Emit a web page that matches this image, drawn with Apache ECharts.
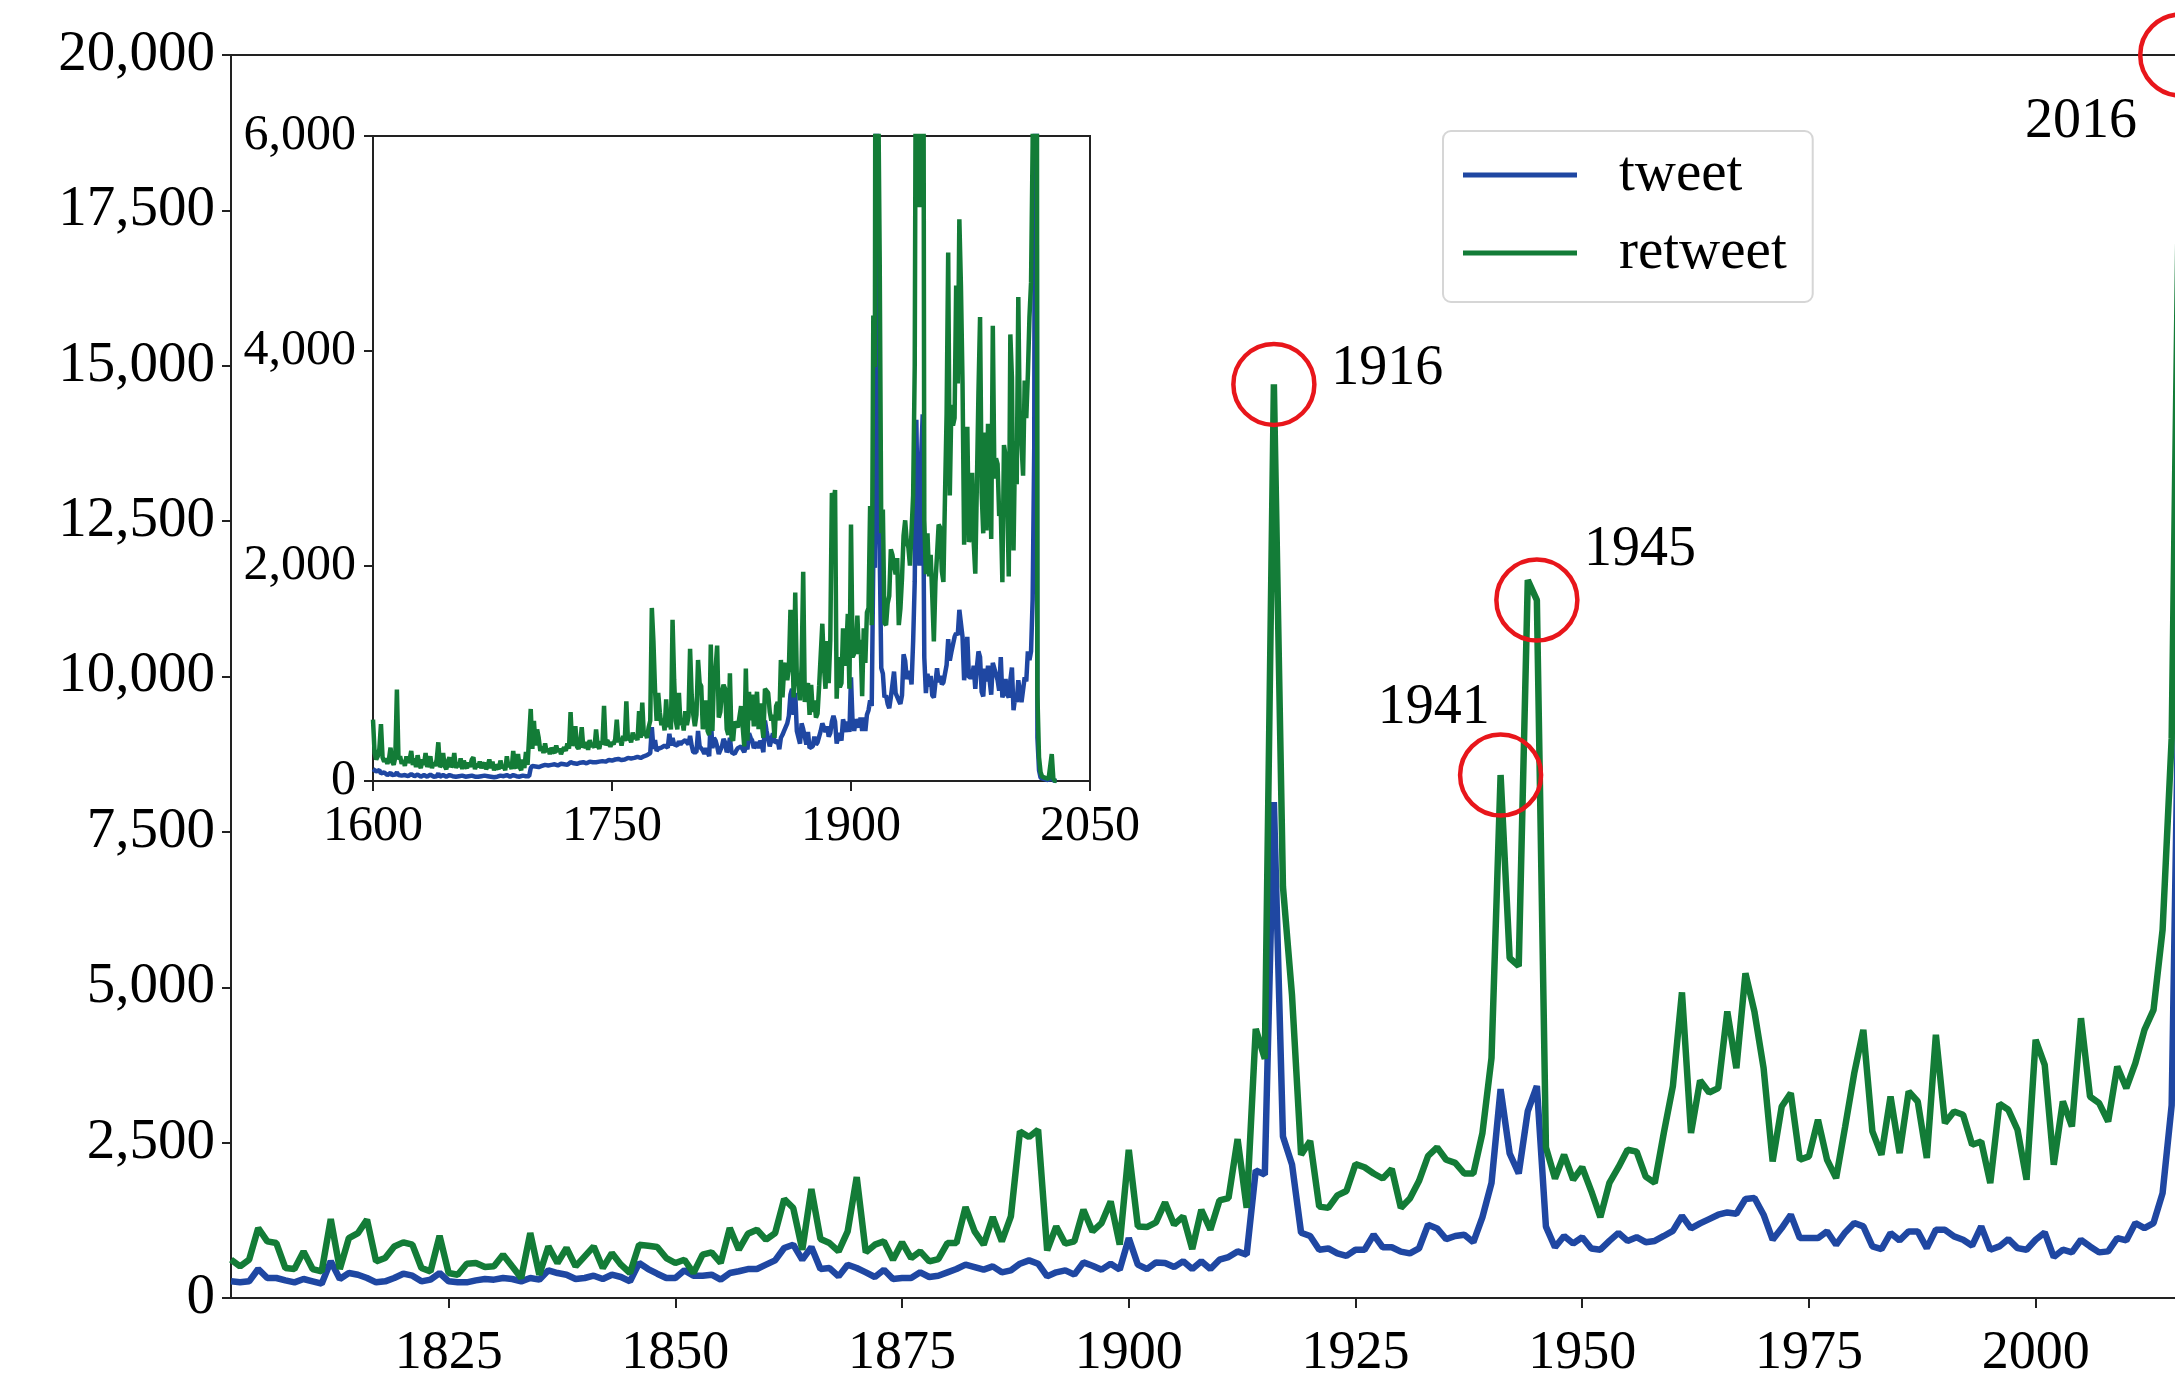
<!DOCTYPE html>
<html>
<head>
<meta charset="utf-8">
<script src="https://cdn.jsdelivr.net/npm/echarts@6/dist/echarts.min.js"></script>
<style>
  html, body { margin: 0; padding: 0; background: #fff; }
  #chart { width: 2175px; height: 1382px; }
</style>
</head>
<body>
<div id="chart"></div>
<script>
// years covered by each block of values
const mainStart = 1801
const earlyStart = 1600
const lateStart = 2017

// yearly counts, 1801-2016 (main panel)
const tweetMain = [
  268, 252, 268, 466, 322, 322, 284, 252, 306, 268,
  230, 590, 306, 402, 375, 322, 252, 268, 322, 391,
  359, 268, 295, 402, 268, 252, 252, 284, 306, 295,
  322, 306, 268, 322, 295, 445, 402, 375, 306, 322,
  359, 306, 375, 338, 268, 563, 466, 391, 322, 322,
  445, 359, 359, 375, 295, 402, 430, 466, 466, 536,
  606, 804, 858, 616, 820, 466, 482, 348, 536, 482,
  413, 338, 456, 306, 322, 322, 413, 338, 359, 413,
  466, 536, 498, 456, 509, 413, 445, 552, 606, 552,
  348, 413, 445, 375, 573, 520, 456, 552, 456, 965,
  536, 466, 573, 563, 498, 590, 466, 590, 466, 616,
  659, 750, 697, 2054, 1984, 7980, 2600, 2150, 1050, 998,
  777, 797, 717, 677, 777, 777, 1018, 817, 817, 747,
  717, 797, 1179, 1119, 948, 998, 1018, 898, 1300, 1852,
  3360, 2325, 2003, 3008, 3410, 1149, 817, 998, 877, 978,
  797, 777, 918, 1049, 918, 978, 898, 918, 998, 1079,
  1320, 1119, 1200, 1270, 1340, 1377, 1356, 1592, 1608, 1340,
  937, 1125, 1340, 964, 964, 964, 1072, 857, 1055, 1206,
  1152, 830, 787, 1045, 927, 1072, 1072, 803, 1098, 1098,
  991, 937, 841, 1152, 777, 830, 948, 803, 777, 937,
  1055, 658, 777, 734, 937, 830, 734, 750, 964, 927,
  1206, 1125, 1206, 1688, 3100, 12000
]
const retweetMain = [
  616, 509, 616, 1126, 911, 884, 482, 466, 750, 466,
  429, 1270, 466, 965, 1045, 1260, 590, 643, 830, 895,
  858, 482, 429, 1002, 402, 375, 552, 563, 498, 509,
  697, 509, 322, 1045, 375, 830, 563, 804, 509, 670,
  830, 482, 723, 536, 402, 858, 841, 820, 643, 563,
  616, 402, 697, 734, 563, 1126, 777, 1034, 1099, 938,
  1045, 1592, 1447, 777, 1753, 949, 884, 750, 1072, 1946,
  734, 858, 911, 616, 895, 643, 750, 590, 627, 884,
  884, 1463, 1072, 858, 1302, 911, 1313, 2680, 2589, 2707,
  766, 1152, 874, 911, 1420, 1072, 1206, 1554, 858, 2385,
  1152, 1142, 1217, 1538, 1179, 1313, 788, 1420, 1099, 1570,
  1608, 2557, 1450, 4330, 3850, 14700, 6620, 4870, 2305, 2526,
  1470, 1450, 1651, 1721, 2154, 2104, 2003, 1923, 2074, 1450,
  1601, 1882, 2285, 2425, 2224, 2174, 2003, 2003, 2656, 3863,
  8415, 5470, 5340, 11550, 11230, 2425, 1923, 2305, 1903, 2104,
  1721, 1299, 1852, 2104, 2385, 2355, 1953, 1852, 2656, 3410,
  4917, 2656, 3500, 3306, 3376, 4610, 3698, 5225, 4600, 3700,
  2197, 3081, 3296, 2224, 2278, 2867, 2224, 1929, 2760, 3618,
  4315, 2680, 2304, 3242, 2331, 3323, 3162, 2251, 4234, 2814,
  3001, 2948, 2465, 2519, 1849, 3125, 3028, 2707, 1902, 4154,
  3752, 2144, 3162, 2760, 4502, 3242, 3135, 2841, 3725, 3376,
  3778, 4315, 4636, 5922, 9000, 20000
]

// 1600-1800, only seen in the inset
const tweetEarly = [
  110, 120, 90, 80, 100, 70, 60, 80, 65, 55,
  60, 75, 55, 50, 60, 80, 55, 60, 50, 45,
  55, 60, 45, 50, 65, 50, 45, 55, 60, 45,
  40, 50, 55, 45, 40, 50, 60, 45, 40, 50,
  45, 70, 40, 50, 55, 45, 40, 50, 55, 40,
  45, 55, 40, 50, 45, 40, 50, 45, 40, 35,
  45, 40, 50, 55, 40, 45, 40, 50, 45, 40,
  50, 40, 45, 55, 40, 50, 35, 45, 40, 45,
  50, 40, 45, 40, 55, 45, 40, 50, 55, 40,
  45, 50, 40, 45, 50, 40, 45, 50, 45, 120,
  140, 130, 135, 140, 130, 145, 140, 135, 150, 140,
  145, 140, 150, 145, 155, 150, 145, 155, 160, 150,
  155, 160, 150, 165, 175, 160, 165, 170, 160, 165,
  170, 165, 175, 170, 165, 175, 180, 170, 175, 180,
  175, 185, 180, 190, 185, 195, 180, 190, 195, 185,
  190, 195, 200, 190, 205, 200, 195, 210, 200, 205,
  215, 205, 210, 220, 215, 210, 225, 230, 215, 220,
  230, 225, 240, 235, 260, 500, 300, 380, 280, 300,
  290, 310, 300, 330, 320, 310, 440, 330, 400, 340,
  350, 330, 370, 340, 360, 350, 380, 360, 340, 420,
  330
]
const retweetEarly = [
  570, 260, 200, 230, 300, 530, 220, 180, 210, 160,
  200, 310, 180, 150, 220, 850, 200, 230, 160, 190,
  140, 230, 170, 200, 280, 150, 210, 130, 240, 160,
  120, 200, 150, 260, 130, 180, 230, 120, 170, 140,
  200, 360, 130, 150, 260, 140, 110, 180, 220, 130,
  150, 260, 120, 170, 130, 210, 110, 190, 140, 120,
  170, 130, 200, 220, 110, 160, 130, 180, 120, 150,
  170, 110, 140, 200, 120, 180, 100, 150, 130, 110,
  190, 120, 140, 100, 230, 130, 160, 110, 280, 140,
  120, 250, 130, 100, 200, 120, 270, 150, 140, 670,
  300, 560, 330, 480, 400, 280, 320, 260, 350, 270,
  300, 250, 310, 280, 260, 330, 270, 300, 250, 290,
  310, 280, 350, 300, 640, 330, 360, 510, 320, 300,
  340, 500, 310, 330, 360, 290, 380, 320, 340, 310,
  480, 330, 300, 370, 340, 700, 330, 380, 350, 320,
  360, 340, 390, 570, 360, 400, 330, 420, 370, 740,
  380, 400, 360, 450, 390, 420, 380, 650, 400, 730,
  420, 450, 400, 500, 560, 1610, 1300, 850, 560, 820,
  640, 520, 580, 470, 760, 500, 600, 480, 1500, 940,
  560, 480, 820, 520, 580, 470, 650, 520, 600, 1230,
  800
]

// 2017-2029, only seen in the inset
const tweetLate = [400, 100, 30, 20, 20, 15, 10, 10, 15, 40, 5, 0, 0]
const retweetLate = [800, 220, 80, 40, 30, 30, 20, 20, 30, 250, 20, 0, 0]

// axis ticks
const mainYearTicks = [1825, 1850, 1875, 1900, 1925, 1950, 1975, 2000]
const peakYears = [1916, 1941, 1945, 2016]

const serif = "'Liberation Serif', 'Times New Roman', serif"
const blue = '#1f47a2'
const green = '#137c37'
const axisColor = '#222'

function toPairs(start, values) {
  return values.map((v, i) => [start + i, v])
}
function fmt(v) {
  return v.toLocaleString('en-US')
}
function yearFmt(v) {
  return String(v)
}

const tweetAll = toPairs(earlyStart, tweetEarly.concat(tweetMain, tweetLate))
const retweetAll = toPairs(earlyStart, retweetEarly.concat(retweetMain, retweetLate))

// label placement next to each red circle (relative to the symbol box)
const peakLabel = {
  1916: { position: [100, 28], align: 'left' },
  1941: { position: [32, -24], align: 'right' },
  1945: { position: [90, -7], align: 'left' },
  2016: { position: [-1, 110], align: 'right' }
}

var myChart = echarts.init(document.getElementById('chart'))
let option = {
  animation: false,
  backgroundColor: '#fff',
  grid: [
    {
      left: 231, top: 55, right: -42, bottom: 84,
      show: true, borderColor: axisColor, borderWidth: 2,
      outerBoundsMode: 'none'
    },
    {
      left: 373, top: 136, width: 717, height: 645,
      show: true, borderColor: axisColor, borderWidth: 2,
      outerBoundsMode: 'none'
    }
  ],
  xAxis: [
    {
      type: 'value', gridIndex: 0, min: 1801, max: 2020,
      axisLine: { show: true, lineStyle: { color: axisColor, width: 2 } },
      axisTick: { show: true, length: 10, lineStyle: { color: axisColor, width: 2 }, customValues: mainYearTicks },
      axisLabel: { margin: 29, fontFamily: serif, fontSize: 54, color: '#000', customValues: mainYearTicks, formatter: yearFmt },
      splitLine: { show: false }
    },
    {
      type: 'value', gridIndex: 1, min: 1600, max: 2050, interval: 150,
      axisLine: { show: true, lineStyle: { color: axisColor, width: 2 } },
      axisTick: { show: true, length: 10, lineStyle: { color: axisColor, width: 2 } },
      axisLabel: { margin: 21, fontFamily: serif, fontSize: 50, color: '#000', formatter: yearFmt },
      splitLine: { show: false }
    }
  ],
  yAxis: [
    {
      type: 'value', gridIndex: 0, min: 0, max: 20000, interval: 2500,
      axisLine: { show: true, lineStyle: { color: axisColor, width: 2 } },
      axisTick: { show: true, length: 9, lineStyle: { color: axisColor, width: 2 } },
      axisLabel: { margin: 16, fontFamily: serif, fontSize: 57, color: '#000', formatter: fmt },
      splitLine: { show: false }
    },
    {
      type: 'value', gridIndex: 1, min: 0, max: 6000, interval: 2000,
      axisLine: { show: true, lineStyle: { color: axisColor, width: 2 } },
      axisTick: { show: true, length: 9, lineStyle: { color: axisColor, width: 2 } },
      axisLabel: { margin: 17, fontFamily: serif, fontSize: 50, color: '#000', formatter: fmt },
      splitLine: { show: false }
    }
  ],
  legend: {
    data: ['tweet', 'retweet'],
    orient: 'vertical',
    left: 1443, top: 131,
    padding: [12, 26, 17, 20],
    itemWidth: 114, itemHeight: 5, itemGap: 14,
    icon: 'rect',
    backgroundColor: '#fff',
    borderColor: '#d6d6d6', borderWidth: 2, borderRadius: 8,
    textStyle: { fontFamily: serif, fontSize: 57, lineHeight: 59, color: '#000', padding: [5, 0, 0, 37] }
  },
  series: [
    {
      name: 'tweet', type: 'line', xAxisIndex: 0, yAxisIndex: 0,
      showSymbol: false, data: toPairs(mainStart, tweetMain),
      itemStyle: { color: blue },
      lineStyle: { color: blue, width: 6.5 }
    },
    {
      name: 'retweet', type: 'line', xAxisIndex: 0, yAxisIndex: 0,
      showSymbol: false, data: toPairs(mainStart, retweetMain),
      itemStyle: { color: green },
      lineStyle: { color: green, width: 6.5 }
    },
    {
      name: 'tweet', type: 'line', xAxisIndex: 1, yAxisIndex: 1,
      showSymbol: false, data: tweetAll,
      itemStyle: { color: blue },
      lineStyle: { color: blue, width: 4.5 }
    },
    {
      name: 'retweet', type: 'line', xAxisIndex: 1, yAxisIndex: 1,
      showSymbol: false, data: retweetAll,
      itemStyle: { color: green },
      lineStyle: { color: green, width: 4.5 }
    },
    {
      // red rings round the labelled peaks
      type: 'scatter', xAxisIndex: 0, yAxisIndex: 0, z: 5,
      symbol: 'circle', symbolSize: 81, clip: false,
      itemStyle: { color: 'rgba(0,0,0,0)', borderColor: '#e8161b', borderWidth: 4.5, opacity: 1 },
      emphasis: { disabled: true },
      label: {
        show: true, fontFamily: serif, fontSize: 56, color: '#000',
        verticalAlign: 'middle', formatter: p => String(p.value[0])
      },
      data: peakYears.map(y => ({
        value: [y, retweetMain[y - mainStart]],
        label: peakLabel[y]
      }))
    }
  ]
}
myChart.setOption(option)
</script>
</body>
</html>
